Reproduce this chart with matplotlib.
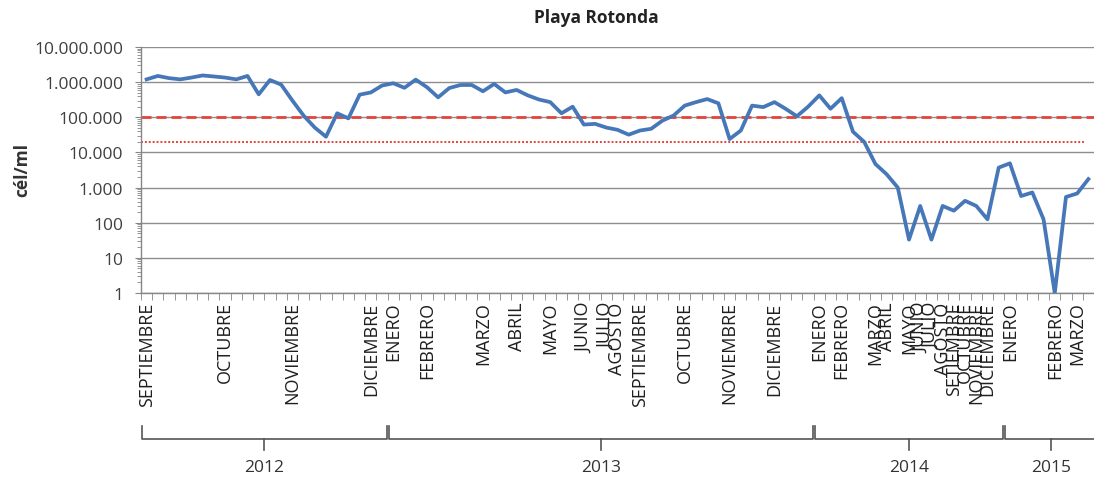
import matplotlib.pyplot as plt
import matplotlib.ticker as mticker
from matplotlib.transforms import blended_transform_factory

plt.rcParams['font.family'] = ['Open Sans', 'DejaVu Sans']

# cell density per sampling date (cél/ml)
conc = [1200000, 1500000, 1300000, 1200000, 1350000, 1550000, 1450000, 1350000,
        1200000, 1500000, 450000, 1150000, 850000, 300000, 112000, 51000,
        28000, 130000, 93000, 440000, 510000, 800000,
        930000, 690000, 1180000, 720000, 370000, 680000, 830000, 830000,
        550000, 890000, 510000, 600000, 420000, 320000, 270000, 130000,
        200000, 62000, 65000, 51000, 44000, 32000, 42000, 47000,
        80000, 112000, 215000, 270000, 330000, 250000, 24000, 42000,
        215000, 195000, 270000, 174000, 107000, 200000,
        420000, 175000, 350000, 39000, 20000, 4700, 2400, 1000,
        33, 300, 33, 300, 220, 420, 300, 125, 3700,
        4900, 575, 725, 125, 1, 540, 680, 1740]

# month names shown under the first sample of each month
month_at = {0: 'SEPTIEMBRE', 7: 'OCTUBRE', 13: 'NOVIEMBRE', 20: 'DICIEMBRE',
            22: 'ENERO', 25: 'FEBRERO', 30: 'MARZO', 33: 'ABRIL', 36: 'MAYO',
            39: 'JUNIO', 41: 'JULIO', 42: 'AGOSTO', 44: 'SEPTIEMBRE',
            48: 'OCTUBRE', 52: 'NOVIEMBRE', 56: 'DICIEMBRE',
            60: 'ENERO', 62: 'FEBRERO', 65: 'MARZO', 66: 'ABRIL', 68: 'MAYO',
            69: 'JUNIO', 70: 'JULIO', 71: 'AGOSTO', 72: 'SETIEMBRE',
            73: 'OCTUBRE', 74: 'NOVIEMBRE', 75: 'DICIEMBRE',
            77: 'ENERO', 81: 'FEBRERO', 83: 'MARZO'}

years = ['2012', '2013', '2014', '2015']
year_start = [0, 22, 60, 77]

limit_high = 100000
limit_low = 20000

n = len(conc)
x = list(range(n))
labels = [month_at.get(i, '') for i in x]
x_right = 84.14

fig = plt.figure(figsize=(10.94, 4.85), dpi=100)
ax = fig.add_axes([141 / 1094, 1 - 294 / 485, 953 / 1094, 246 / 485])

ax.axhline(limit_high, color='#e2453b', lw=2, linestyle=(0, (3.6, 1.8)), zorder=2)
ax.hlines(limit_low, -0.5, 83.6, color='#e2453b', lw=1.4, linestyle=(0, (1, 1)), zorder=2)
ax.plot(x, conc, color='#4677b8', lw=2.7, zorder=3)

ax.set_yscale('log')
ax.set_ylim(1, 1e7)
ax.set_xlim(-0.5, x_right)
ax.yaxis.set_major_locator(mticker.LogLocator(base=10, numticks=10))
ax.yaxis.set_minor_locator(mticker.LogLocator(base=10, subs=range(2, 10), numticks=20))
ax.yaxis.set_major_formatter(mticker.FuncFormatter(lambda v, p: f'{int(round(v)):,}'.replace(',', '.')))
ax.yaxis.set_minor_formatter(mticker.NullFormatter())
ax.yaxis.grid(True, which='major', color='#8e8e8e', lw=1)
ax.set_axisbelow(True)

ax.set_xticks(x)
ax.set_xticklabels(labels, rotation=90, fontsize=13, color='#1e1e1e')
ax.set_xticks([i - 0.5 for i in x] + [n - 0.5], minor=True)
ax.tick_params(axis='x', which='major', length=0, pad=6)
ax.tick_params(axis='x', which='minor', length=5, color='#868686', direction='out')
ax.tick_params(axis='y', which='major', length=4, color='#868686', labelsize=12.5,
               labelcolor='#404040', pad=9)
ax.tick_params(axis='y', which='minor', length=3, color='#868686')

for side in ['top', 'right']:
    ax.spines[side].set_visible(False)
for side in ['left', 'bottom']:
    ax.spines[side].set_color('#868686')
    ax.spines[side].set_linewidth(1)

# year brackets below the month names
tr = blended_transform_factory(ax.transData, fig.transFigure)
y_top = 1 - 427 / 485
y_bar = 1 - 440 / 485
y_mid = 1 - 451 / 485
bounds = year_start + [x_right + 3]
for k, yr in enumerate(years):
    a = bounds[k] - 0.5 + 0.08
    b = bounds[k + 1] - 0.5 - 0.08
    ax.plot([a, a, b, b], [y_top, y_bar, y_bar, y_top], color='#555555', lw=1.2,
            transform=tr, clip_on=False)
    if k == len(years) - 1:
        mid = (a + x_right) / 2 + 0.3
    else:
        mid = (a + b) / 2
    ax.plot([mid, mid], [y_bar, y_mid], color='#555555', lw=1.2, transform=tr, clip_on=False)
    ax.text(mid, 1 - 468 / 485, yr, transform=tr, ha='center', va='center',
            fontsize=12.5, color='#333333')

fig.text(596 / 1094, 1 - 18 / 485, 'Playa Rotonda', ha='center', va='center',
         fontsize=12.5, fontweight='bold', color='#222222')
fig.text(22 / 1094, 1 - 170 / 485, 'cél/ml', ha='center', va='center', rotation=90,
         fontsize=12.5, fontweight='bold', color='#333333')

fig.savefig('out.png', dpi=100)
